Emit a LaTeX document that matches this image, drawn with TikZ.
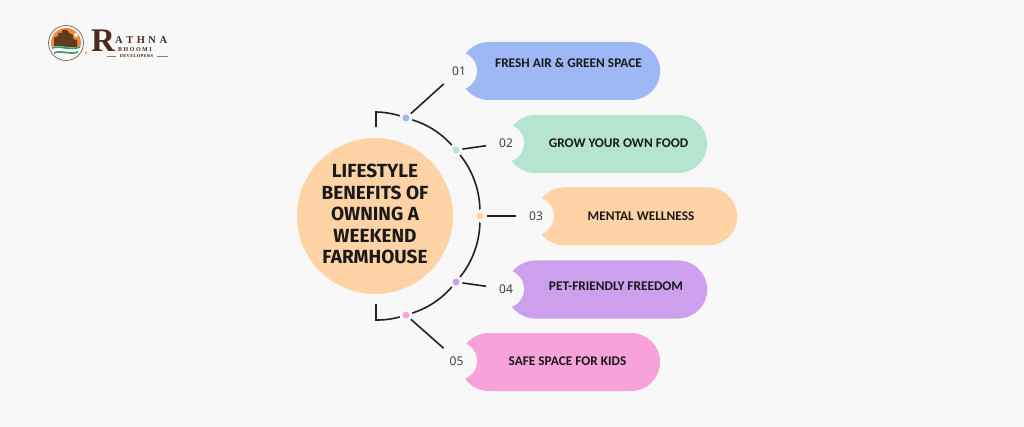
\documentclass[tikz,border=0pt]{standalone}
\usepackage{fontspec}
\setmainfont{Fira Sans}
\newfontfamily\labelfont{Carlito}
\newfontfamily\numfont{Open Sans}
\newfontfamily\seriffont{Liberation Serif}
\begin{document}
\begin{tikzpicture}[
    x=1pt, y=-1pt,
    tabbox/.style={rounded corners=29pt, minimum height=58pt, inner sep=0pt, anchor=west},
    notch/.style={circle, fill=pagebg, minimum size=38pt, inner sep=0pt, text=numcol, font=\numfont\fontsize{12}{12}\selectfont},
    tabtext/.style={font=\labelfont\bfseries\fontsize{13.3}{14}\selectfont, text=black!90},
    dot/.style={circle, minimum size=7pt, inner sep=0pt, outer sep=3pt},
    link/.style={draw=linecol, line width=1.6pt},
    bow/.style={bend left=#1, looseness=.87}
  ]
  \definecolor{pagebg}{HTML}{F8F8F8}
  \definecolor{numcol}{HTML}{333333}
  \definecolor{linecol}{HTML}{222222}
  \definecolor{tabblue}{HTML}{9DB8F5}
  \definecolor{tabgreen}{HTML}{B5E5D0}
  \definecolor{taborange}{HTML}{FFD3A5}
  \definecolor{tabpurple}{HTML}{CDA0EE}
  \definecolor{tabpink}{HTML}{F7A3D9}
  \definecolor{logobrown}{HTML}{4A2A1C}
  \definecolor{logoorange}{HTML}{EE8B33}
  \definecolor{logogreen}{HTML}{3E9A72}
  \useasboundingbox[fill=pagebg] (0,0) rectangle (1024,427);

  % centre
  \node (hub) [circle, fill=taborange, minimum size=156pt, inner sep=0pt] at (375,216) {};
  \node (hubtext) [align=center, font=\bfseries\fontsize{19}{21.5}\selectfont, text=black!90] at (375,214)
    {LIFESTYLE\\BENEFITS OF\\OWNING A\\WEEKEND\\FARMHOUSE};

  % tabs
  \node (tab1) [tabbox, fill=tabblue, minimum width=200.5pt] at (459.5,71) {};
  \node (tab2) [tabbox, fill=tabgreen, minimum width=201pt] at (506,144) {};
  \node (tab3) [tabbox, fill=taborange, minimum width=202pt] at (535,216.5) {};
  \node (tab4) [tabbox, fill=tabpurple, minimum width=201pt] at (506,289.5) {};
  \node (tab5) [tabbox, fill=tabpink, minimum width=200.5pt] at (459.5,362) {};
  \node (num1) [notch] at (458,71) {\kern2pt 01};
  \node (num2) [notch] at (505,143) {\kern2pt 02};
  \node (num3) [notch] at (535,216) {\kern2pt 03};
  \node (num4) [notch] at (505,289) {\kern2pt 04};
  \node (num5) [notch] at (458,361) {\kern-3pt 05};
  \node (txt1) [tabtext] at (568.5,63) {FRESH AIR \& GREEN SPACE};
  \node (txt2) [tabtext] at (618.5,143) {GROW YOUR OWN FOOD};
  \node (txt3) [tabtext] at (641,216) {MENTAL WELLNESS};
  \node (txt4) [tabtext] at (616,286) {PET-FRIENDLY FREEDOM};
  \node (txt5) [tabtext] at (567.5,361) {SAFE SPACE FOR KIDS};

  % dots on the arc
  \node (dot1) [dot, fill=tabblue] at (406,118) {};
  \node (dot2) [dot, fill=tabgreen] at (456,150) {};
  \node (dot3) [dot, fill=taborange] at (480,216) {};
  \node (dot4) [dot, fill=tabpurple] at (456,282) {};
  \node (dot5) [dot, fill=tabpink] at (406,315) {};
  \coordinate (top) at (376,127);
  \coordinate (topcorner) at (376,112);
  \coordinate (bot) at (376,304);
  \coordinate (botcorner) at (376,320);

  \draw[link] (top) -- (topcorner) to[bow=8] (dot1);
  \draw[link] (dot1) to[bow=16] (dot2);
  \draw[link] (dot2) to[bow=19] (dot3);
  \draw[link] (dot3) to[bow=19] (dot4);
  \draw[link] (dot4) to[bow=16] (dot5);
  \draw[link] (dot5) to[bow=8] (botcorner) -- (bot);
  \draw[link] (dot1) -- (num1);
  \draw[link] (dot2) -- (num2);
  \draw[link] (dot3) -- (num3);
  \draw[link] (dot4) -- (num4);
  \draw[link] (dot5) -- (num5);

  % logo
  \draw[logobrown!75, line width=.7pt] (66,43) circle (17.5);
  \node (logodisc) [circle, fill=logoorange, minimum size=30pt, inner sep=0pt] at (66,43) {};
  \node (logosun) [circle, fill=pagebg, minimum size=4pt, inner sep=0pt] at (76,35) {};
  \fill[logobrown!85!logoorange] (54,48) -- (54,38) -- (58,36) -- (58,33) -- (62,33) -- (62,30) -- (67,30) -- (69,33) -- (73,35) -- (73,39) -- (77,40) -- (77,48) -- cycle;
  \fill[pagebg] (51,47) .. controls (60,44) and (70,50) .. (81,46) .. controls (80,53) and (74,58) .. (66,58) .. controls (58,58) and (53,53) .. (51,47) -- cycle;
  \draw[logogreen, line width=1.7pt] (52,48) .. controls (60,45) and (70,51) .. (80,47);
  \draw[logogreen, line width=1.7pt] (54,53) .. controls (61,50) and (70,55) .. (78,52);
  \node (logospot) [circle, fill=logoorange, minimum size=2.5pt, inner sep=0pt] at (86,53) {};
  \node (logor) [font=\seriffont\bfseries\fontsize{33}{33}\selectfont, text=logobrown] at (103,41) {R};
  \node (logoa) [anchor=west, inner sep=0pt, font=\seriffont\bfseries\fontsize{10.5}{11}\selectfont, text=logobrown] at (115,40.5) {A\kern3.5pt T\kern3.5pt H\kern3.5pt N\kern3.5pt A};
  \node (logob) [anchor=west, inner sep=0pt, font=\seriffont\bfseries\fontsize{6}{6}\selectfont, text=logobrown] at (118,49.5) {B\kern1.5pt H\kern1.5pt O\kern1.5pt O\kern1.5pt M\kern1.5pt I};
  \node (logod) [inner sep=0pt, font=\seriffont\bfseries\fontsize{4.5}{5}\selectfont, text=logobrown] at (136.5,56.5) {D\kern.3pt E\kern.3pt V\kern.3pt E\kern.3pt L\kern.3pt O\kern.3pt P\kern.3pt E\kern.3pt R\kern.3pt S};
  \draw[logobrown!60, line width=.4pt] (107,56.5) -- (116,56.5) (157,56.5) -- (168,56.5);
\end{tikzpicture}
\end{document}
